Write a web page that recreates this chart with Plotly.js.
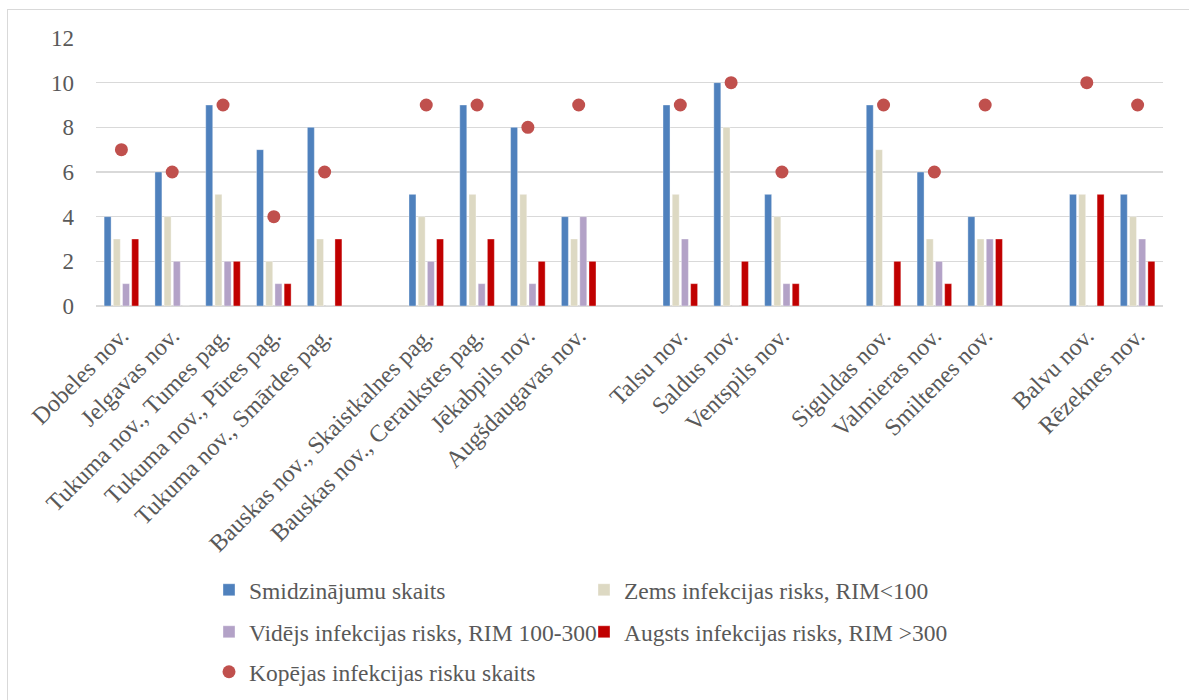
<!DOCTYPE html>
<html>
<head>
<meta charset="utf-8">
<script src="https://cdn.plot.ly/plotly-3.0.1.min.js"></script>
<style>
  html, body { margin: 0; padding: 0; background: #ffffff; overflow: hidden; }
  #chart { position: absolute; left: 0; top: 0; width: 1189px; height: 700px; }
  #frame { position: absolute; left: 7px; top: 9px; width: 1300px; height: 800px;
           border-top: 1.5px solid #d9d9d9; border-left: 1.5px solid #d9d9d9;
           pointer-events: none; }
</style>
</head>
<body>
<div id="chart"></div>
<div id="frame"></div>
<script>
// Regions, split into blocks separated by an empty slot on the axis
const categories = [
  "Dobeles nov.", "Jelgavas nov.", "Tukuma nov., Tumes pag.", "Tukuma nov., Pūres pag.", "Tukuma nov., Smārdes pag.",
  "Bauskas nov., Skaistkalnes pag.", "Bauskas nov., Ceraukstes pag.", "Jēkabpils nov.", "Augšdaugavas nov.",
  "Talsu nov.", "Saldus nov.", "Ventspils nov.",
  "Siguldas nov.", "Valmieras nov.", "Smiltenes nov.",
  "Balvu nov.", "Rēzeknes nov."
];
const blockSizes = [5, 4, 3, 3, 2];

const sprays   = [4, 6, 9, 7, 8,  5, 9, 8, 4,  9, 10, 5,  9, 6, 4,  5, 5];
const riskLow  = [3, 4, 5, 2, 3,  4, 5, 5, 3,  5, 8, 4,   7, 3, 3,  5, 4];
const riskMid  = [1, 2, 2, 1, 0,  2, 1, 1, 4,  3, 0, 1,   0, 2, 3,  0, 3];
const riskHigh = [3, 0, 2, 1, 3,  3, 3, 2, 2,  1, 2, 1,   2, 1, 3,  5, 2];
const riskTotal = [7, 6, 9, 4, 6, 9, 9, 8, 9,  9, 10, 6,  9, 6, 9,  10, 9];

const seriesNames = [
  "Smidzinājumu skaits",
  "Zems infekcijas risks, RIM<100",
  "Vidējs infekcijas risks, RIM 100-300",
  "Augsts infekcijas risks, RIM >300",
  "Kopējas infekcijas risku skaits"
];

// Axis slot of each region: its index plus one empty slot per preceding block
const slots = [];
let slot = 0;
blockSizes.forEach((n) => {
  for (let i = 0; i < n; i++) slots.push(slot++);
  slot++;
});
const lastSlot = slots[slots.length - 1];

const serif = "Liberation Serif, Times New Roman, serif";
const textGrey = "#595959";

function barTrace(name, values, color, legend) {
  return {
    type: "bar", name: name, x: slots, y: values,
    marker: { color: color, line: { color: "rgba(255,255,255,0.6)", width: 0.6 } },
    legend: legend, hoverinfo: "y"
  };
}

const data = [
  barTrace(seriesNames[0], sprays,   "#4F81BD", "legend"),
  barTrace(seriesNames[1], riskLow,  "#DDD9C3", "legend"),
  barTrace(seriesNames[2], riskMid,  "#B3A2C7", "legend2"),
  barTrace(seriesNames[3], riskHigh, "#C00000", "legend2"),
  {
    type: "scatter", mode: "markers", name: seriesNames[4],
    x: slots, y: riskTotal,
    marker: { color: "#C0504D", size: 13 },
    legend: "legend3", hoverinfo: "y"
  }
];

// Three stacked legend rows, two entries per row
function legendRow(yPx) {
  return {
    orientation: "h", xref: "container", yref: "container",
    x: 209 / 1189, xanchor: "left", y: 1 - yPx / 700, yanchor: "middle",
    entrywidth: 330, entrywidthmode: "pixels",
    font: { family: serif, size: 23.5, color: textGrey },
    bgcolor: "rgba(0,0,0,0)", itemclick: false
  };
}

const layout = {
  width: 1189, height: 700,
  paper_bgcolor: "#ffffff", plot_bgcolor: "#ffffff",
  margin: { l: 96, r: 26, t: 38, b: 394 },
  barmode: "group", bargap: 0.276, bargroupgap: 0.24,
  font: { family: serif, color: textGrey },
  xaxis: {
    range: [-0.5, lastSlot + 0.5],
    tickmode: "array", tickvals: slots, ticktext: categories,
    tickangle: -45, ticks: "", showgrid: false, zeroline: false, showline: false,
    tickfont: { family: serif, size: 24, color: textGrey },
    ticklabelstandoff: 10
  },
  yaxis: {
    range: [0, 12], dtick: 2, tick0: 0,
    showgrid: true, gridcolor: "#d9d9d9", gridwidth: 1.3,
    zeroline: true, zerolinecolor: "#d9d9d9", zerolinewidth: 1.3,
    showline: false, ticks: "",
    tickfont: { family: serif, size: 23, color: textGrey },
    ticklabelstandoff: 21
  },
  showlegend: true,
  legend:  legendRow(590),
  legend2: legendRow(632),
  legend3: legendRow(672)
};

Plotly.newPlot("chart", data, layout, { displayModeBar: false, staticPlot: true });
</script>
</body>
</html>
